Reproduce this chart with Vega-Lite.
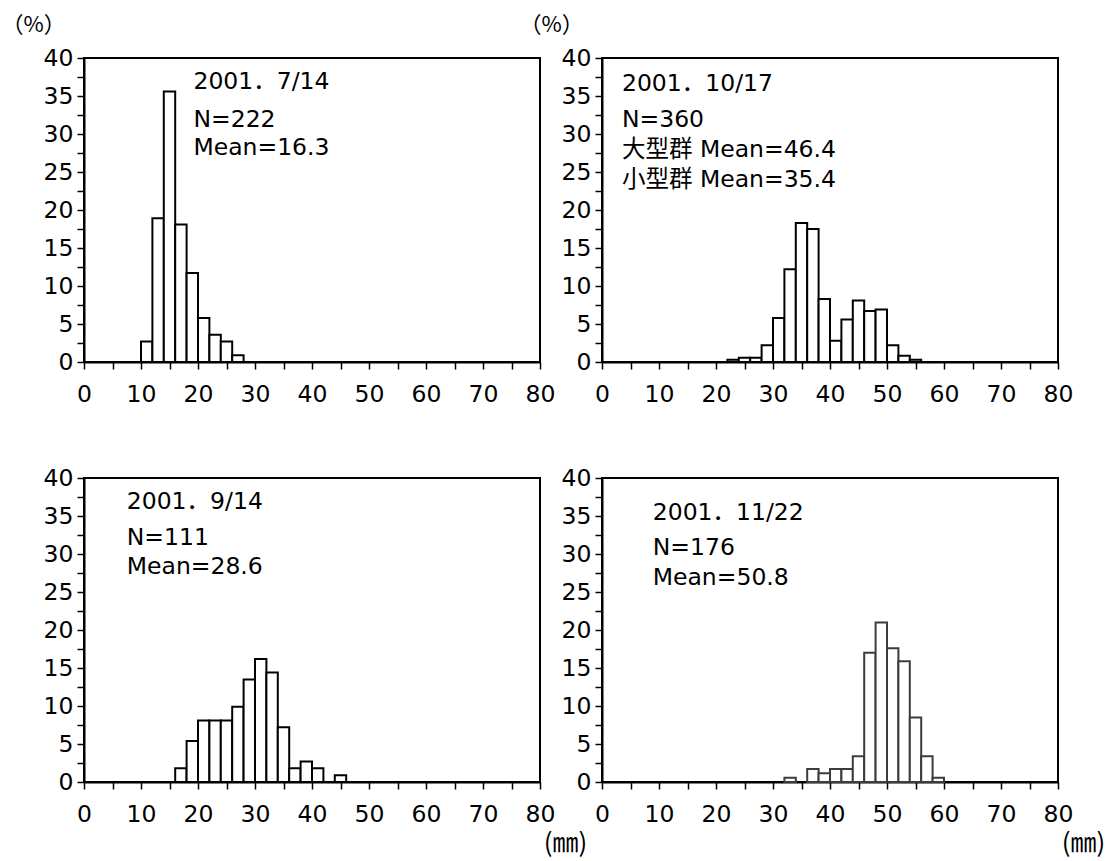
{
  "$schema": "https://vega.github.io/schema/vega-lite/v6.json",
  "autosize": {"type": "none"},
  "padding": {"left": 84, "top": 58, "right": 1030, "bottom": 803},
  "background": "white",
  "config": {
    "view": {"stroke": "black", "strokeWidth": 2},
    "font": "DejaVu Sans",
    "axis": {
      "domainColor": "black", "domainWidth": 2, "tickColor": "black", "tickWidth": 1.5,
      "labelColor": "black", "labelFont": "DejaVu Sans", "labelFontSize": 23.5,
      "titleFont": "Noto Sans CJK JP", "titleFontSize": 22, "titleFontWeight": "normal", "titleColor": "black",
      "grid": false, "labelOverlap": false, "labelFlush": false, "labelBound": false
    },
    "text": {"font": "DejaVu Sans, Noto Sans CJK JP", "fontSize": 23.5, "color": "black"}
  },
  "datasets": {
    "bars": [
      {"panel": "A", "lo": 10, "hi": 12, "pct": 2.7},
      {"panel": "A", "lo": 12, "hi": 14, "pct": 18.9},
      {"panel": "A", "lo": 14, "hi": 16, "pct": 35.6},
      {"panel": "A", "lo": 16, "hi": 18, "pct": 18.1},
      {"panel": "A", "lo": 18, "hi": 20, "pct": 11.7},
      {"panel": "A", "lo": 20, "hi": 22, "pct": 5.8},
      {"panel": "A", "lo": 22, "hi": 24, "pct": 3.6},
      {"panel": "A", "lo": 24, "hi": 26, "pct": 2.7},
      {"panel": "A", "lo": 26, "hi": 28, "pct": 0.9},
      {"panel": "B", "lo": 22, "hi": 24, "pct": 0.28},
      {"panel": "B", "lo": 24, "hi": 26, "pct": 0.56},
      {"panel": "B", "lo": 26, "hi": 28, "pct": 0.56},
      {"panel": "B", "lo": 28, "hi": 30, "pct": 2.2},
      {"panel": "B", "lo": 30, "hi": 32, "pct": 5.8},
      {"panel": "B", "lo": 32, "hi": 34, "pct": 12.2},
      {"panel": "B", "lo": 34, "hi": 36, "pct": 18.3},
      {"panel": "B", "lo": 36, "hi": 38, "pct": 17.5},
      {"panel": "B", "lo": 38, "hi": 40, "pct": 8.3},
      {"panel": "B", "lo": 40, "hi": 42, "pct": 2.8},
      {"panel": "B", "lo": 42, "hi": 44, "pct": 5.6},
      {"panel": "B", "lo": 44, "hi": 46, "pct": 8.1},
      {"panel": "B", "lo": 46, "hi": 48, "pct": 6.7},
      {"panel": "B", "lo": 48, "hi": 50, "pct": 6.9},
      {"panel": "B", "lo": 50, "hi": 52, "pct": 2.2},
      {"panel": "B", "lo": 52, "hi": 54, "pct": 0.83},
      {"panel": "B", "lo": 54, "hi": 56, "pct": 0.28},
      {"panel": "C", "lo": 16, "hi": 18, "pct": 1.8},
      {"panel": "C", "lo": 18, "hi": 20, "pct": 5.4},
      {"panel": "C", "lo": 20, "hi": 22, "pct": 8.1},
      {"panel": "C", "lo": 22, "hi": 24, "pct": 8.1},
      {"panel": "C", "lo": 24, "hi": 26, "pct": 8.1},
      {"panel": "C", "lo": 26, "hi": 28, "pct": 9.9},
      {"panel": "C", "lo": 28, "hi": 30, "pct": 13.5},
      {"panel": "C", "lo": 30, "hi": 32, "pct": 16.2},
      {"panel": "C", "lo": 32, "hi": 34, "pct": 14.4},
      {"panel": "C", "lo": 34, "hi": 36, "pct": 7.2},
      {"panel": "C", "lo": 36, "hi": 38, "pct": 1.8},
      {"panel": "C", "lo": 38, "hi": 40, "pct": 2.7},
      {"panel": "C", "lo": 40, "hi": 42, "pct": 1.8},
      {"panel": "C", "lo": 44, "hi": 46, "pct": 0.9},
      {"panel": "D", "lo": 32, "hi": 34, "pct": 0.57},
      {"panel": "D", "lo": 36, "hi": 38, "pct": 1.7},
      {"panel": "D", "lo": 38, "hi": 40, "pct": 1.14},
      {"panel": "D", "lo": 40, "hi": 42, "pct": 1.7},
      {"panel": "D", "lo": 42, "hi": 44, "pct": 1.7},
      {"panel": "D", "lo": 44, "hi": 46, "pct": 3.4},
      {"panel": "D", "lo": 46, "hi": 48, "pct": 17.0},
      {"panel": "D", "lo": 48, "hi": 50, "pct": 21.0},
      {"panel": "D", "lo": 50, "hi": 52, "pct": 17.6},
      {"panel": "D", "lo": 52, "hi": 54, "pct": 15.9},
      {"panel": "D", "lo": 54, "hi": 56, "pct": 8.5},
      {"panel": "D", "lo": 56, "hi": 58, "pct": 3.4},
      {"panel": "D", "lo": 58, "hi": 60, "pct": 0.57}
    ],
    "notes": [
      {"panel": "A", "x": 19.2, "y": 36.9, "label": "2001．7/14"},
      {"panel": "A", "x": 19.2, "y": 31.9, "label": "N=222"},
      {"panel": "A", "x": 19.2, "y": 28.1, "label": "Mean=16.3"},
      {"panel": "B", "x": 3.5, "y": 36.6, "label": "2001．10/17"},
      {"panel": "B", "x": 3.5, "y": 31.9, "label": "N=360"},
      {"panel": "B", "x": 3.5, "y": 27.9, "label": "大型群 Mean=46.4"},
      {"panel": "B", "x": 3.5, "y": 23.9, "label": "小型群 Mean=35.4"},
      {"panel": "C", "x": 7.5, "y": 36.9, "label": "2001．9/14"},
      {"panel": "C", "x": 7.5, "y": 32.1, "label": "N=111"},
      {"panel": "C", "x": 7.5, "y": 28.3, "label": "Mean=28.6"},
      {"panel": "D", "x": 8.9, "y": 35.4, "label": "2001．11/22"},
      {"panel": "D", "x": 8.9, "y": 30.8, "label": "N=176"},
      {"panel": "D", "x": 8.9, "y": 26.8, "label": "Mean=50.8"}
    ]
  },
  "columns": 2,
  "bounds": "flush",
  "spacing": {"row": 116, "column": 62},
  "concat": [
    {
      "width": 456, "height": 304,
      "layer": [
        {
          "data": {"name": "bars"},
          "transform": [{"filter": "datum.panel === 'A'"}],
          "mark": {"type": "rect", "fill": "white", "stroke": "black", "strokeWidth": 2},
          "encoding": {
            "x": {"field": "lo", "type": "quantitative", "scale": {"domain": [0, 80], "nice": false},
              "axis": {"title": null, "labelOverlap": false, "values": [0,5,10,15,20,25,30,35,40,45,50,55,60,65,70,75,80], "labelExpr": "datum.value % 10 === 0 ? datum.label : ''", "tickSize": 7, "labelPadding": 13}},
            "x2": {"field": "hi"},
            "y": {"field": "pct", "type": "quantitative", "scale": {"domain": [0, 40], "nice": false},
              "axis": {"title": "（%）", "titleAngle": 0, "titleX": -51, "titleY": -34, "titleAlign": "center", "titleBaseline": "middle", "labelOverlap": false,
                "values": [0,2.5,5,7.5,10,12.5,15,17.5,20,22.5,25,27.5,30,32.5,35,37.5,40], "labelExpr": "datum.value % 5 === 0 ? datum.label : ''",
                "tickSize": 7, "labelPadding": 4}},
            "y2": {"datum": 0}
          }
        },
        {
          "data": {"name": "notes"},
          "transform": [{"filter": "datum.panel === 'A'"}],
          "mark": {"type": "text", "align": "left", "baseline": "middle"},
          "encoding": {
            "x": {"field": "x", "type": "quantitative",
              "axis": {"title": null, "labelOverlap": false, "values": [0,5,10,15,20,25,30,35,40,45,50,55,60,65,70,75,80], "labelExpr": "datum.value % 10 === 0 ? datum.label : ''", "tickSize": 7, "labelPadding": 13}},
            "y": {"field": "y", "type": "quantitative",
              "axis": {"title": "（%）", "titleAngle": 0, "titleX": -51, "titleY": -34, "titleAlign": "center", "titleBaseline": "middle", "labelOverlap": false,
                "values": [0,2.5,5,7.5,10,12.5,15,17.5,20,22.5,25,27.5,30,32.5,35,37.5,40], "labelExpr": "datum.value % 5 === 0 ? datum.label : ''",
                "tickSize": 7, "labelPadding": 4}},
            "text": {"field": "label"}
          }
        }
      ]
    },
    {
      "width": 456, "height": 304,
      "layer": [
        {
          "data": {"name": "bars"},
          "transform": [{"filter": "datum.panel === 'B'"}],
          "mark": {"type": "rect", "fill": "white", "stroke": "black", "strokeWidth": 2},
          "encoding": {
            "x": {"field": "lo", "type": "quantitative", "scale": {"domain": [0, 80], "nice": false},
              "axis": {"title": null, "labelOverlap": false, "values": [0,5,10,15,20,25,30,35,40,45,50,55,60,65,70,75,80], "labelExpr": "datum.value % 10 === 0 ? datum.label : ''", "tickSize": 7, "labelPadding": 13}},
            "x2": {"field": "hi"},
            "y": {"field": "pct", "type": "quantitative", "scale": {"domain": [0, 40], "nice": false},
              "axis": {"title": "（%）", "titleAngle": 0, "titleX": -51, "titleY": -34, "titleAlign": "center", "titleBaseline": "middle", "labelOverlap": false,
                "values": [0,2.5,5,7.5,10,12.5,15,17.5,20,22.5,25,27.5,30,32.5,35,37.5,40], "labelExpr": "datum.value % 5 === 0 ? datum.label : ''",
                "tickSize": 7, "labelPadding": 4}},
            "y2": {"datum": 0}
          }
        },
        {
          "data": {"name": "notes"},
          "transform": [{"filter": "datum.panel === 'B'"}],
          "mark": {"type": "text", "align": "left", "baseline": "middle"},
          "encoding": {
            "x": {"field": "x", "type": "quantitative",
              "axis": {"title": null, "labelOverlap": false, "values": [0,5,10,15,20,25,30,35,40,45,50,55,60,65,70,75,80], "labelExpr": "datum.value % 10 === 0 ? datum.label : ''", "tickSize": 7, "labelPadding": 13}},
            "y": {"field": "y", "type": "quantitative",
              "axis": {"title": "（%）", "titleAngle": 0, "titleX": -51, "titleY": -34, "titleAlign": "center", "titleBaseline": "middle", "labelOverlap": false,
                "values": [0,2.5,5,7.5,10,12.5,15,17.5,20,22.5,25,27.5,30,32.5,35,37.5,40], "labelExpr": "datum.value % 5 === 0 ? datum.label : ''",
                "tickSize": 7, "labelPadding": 4}},
            "text": {"field": "label"}
          }
        }
      ]
    },
    {
      "width": 456, "height": 304,
      "layer": [
        {
          "data": {"name": "bars"},
          "transform": [{"filter": "datum.panel === 'C'"}],
          "mark": {"type": "rect", "fill": "white", "stroke": "black", "strokeWidth": 2},
          "encoding": {
            "x": {"field": "lo", "type": "quantitative", "scale": {"domain": [0, 80], "nice": false},
              "axis": {"title": "(㎜)", "titleFontSize": 26, "titleX": 481, "titleY": 61, "titleAlign": "center", "titleBaseline": "middle", "labelOverlap": false,
                "values": [0,5,10,15,20,25,30,35,40,45,50,55,60,65,70,75,80], "labelExpr": "datum.value % 10 === 0 ? datum.label : ''", "tickSize": 7, "labelPadding": 13}},
            "x2": {"field": "hi"},
            "y": {"field": "pct", "type": "quantitative", "scale": {"domain": [0, 40], "nice": false},
              "axis": {"title": null, "labelOverlap": false,
                "values": [0,2.5,5,7.5,10,12.5,15,17.5,20,22.5,25,27.5,30,32.5,35,37.5,40], "labelExpr": "datum.value % 5 === 0 ? datum.label : ''",
                "tickSize": 7, "labelPadding": 4}},
            "y2": {"datum": 0}
          }
        },
        {
          "data": {"name": "notes"},
          "transform": [{"filter": "datum.panel === 'C'"}],
          "mark": {"type": "text", "align": "left", "baseline": "middle"},
          "encoding": {
            "x": {"field": "x", "type": "quantitative",
              "axis": {"title": "(㎜)", "titleFontSize": 26, "titleX": 481, "titleY": 61, "titleAlign": "center", "titleBaseline": "middle", "labelOverlap": false,
                "values": [0,5,10,15,20,25,30,35,40,45,50,55,60,65,70,75,80], "labelExpr": "datum.value % 10 === 0 ? datum.label : ''", "tickSize": 7, "labelPadding": 13}},
            "y": {"field": "y", "type": "quantitative",
              "axis": {"title": null, "labelOverlap": false,
                "values": [0,2.5,5,7.5,10,12.5,15,17.5,20,22.5,25,27.5,30,32.5,35,37.5,40], "labelExpr": "datum.value % 5 === 0 ? datum.label : ''",
                "tickSize": 7, "labelPadding": 4}},
            "text": {"field": "label"}
          }
        }
      ]
    },
    {
      "width": 456, "height": 304,
      "layer": [
        {
          "data": {"name": "bars"},
          "transform": [{"filter": "datum.panel === 'D'"}],
          "mark": {"type": "rect", "fill": "white", "stroke": "#3c3c3c", "strokeWidth": 2},
          "encoding": {
            "x": {"field": "lo", "type": "quantitative", "scale": {"domain": [0, 80], "nice": false},
              "axis": {"title": "(㎜)", "titleFontSize": 26, "titleX": 481, "titleY": 61, "titleAlign": "center", "titleBaseline": "middle", "labelOverlap": false,
                "values": [0,5,10,15,20,25,30,35,40,45,50,55,60,65,70,75,80], "labelExpr": "datum.value % 10 === 0 ? datum.label : ''", "tickSize": 7, "labelPadding": 13}},
            "x2": {"field": "hi"},
            "y": {"field": "pct", "type": "quantitative", "scale": {"domain": [0, 40], "nice": false},
              "axis": {"title": null, "labelOverlap": false,
                "values": [0,2.5,5,7.5,10,12.5,15,17.5,20,22.5,25,27.5,30,32.5,35,37.5,40], "labelExpr": "datum.value % 5 === 0 ? datum.label : ''",
                "tickSize": 7, "labelPadding": 4}},
            "y2": {"datum": 0}
          }
        },
        {
          "data": {"name": "notes"},
          "transform": [{"filter": "datum.panel === 'D'"}],
          "mark": {"type": "text", "align": "left", "baseline": "middle"},
          "encoding": {
            "x": {"field": "x", "type": "quantitative",
              "axis": {"title": "(㎜)", "titleFontSize": 26, "titleX": 481, "titleY": 61, "titleAlign": "center", "titleBaseline": "middle", "labelOverlap": false,
                "values": [0,5,10,15,20,25,30,35,40,45,50,55,60,65,70,75,80], "labelExpr": "datum.value % 10 === 0 ? datum.label : ''", "tickSize": 7, "labelPadding": 13}},
            "y": {"field": "y", "type": "quantitative",
              "axis": {"title": null, "labelOverlap": false,
                "values": [0,2.5,5,7.5,10,12.5,15,17.5,20,22.5,25,27.5,30,32.5,35,37.5,40], "labelExpr": "datum.value % 5 === 0 ? datum.label : ''",
                "tickSize": 7, "labelPadding": 4}},
            "text": {"field": "label"}
          }
        }
      ]
    }
  ]
}
